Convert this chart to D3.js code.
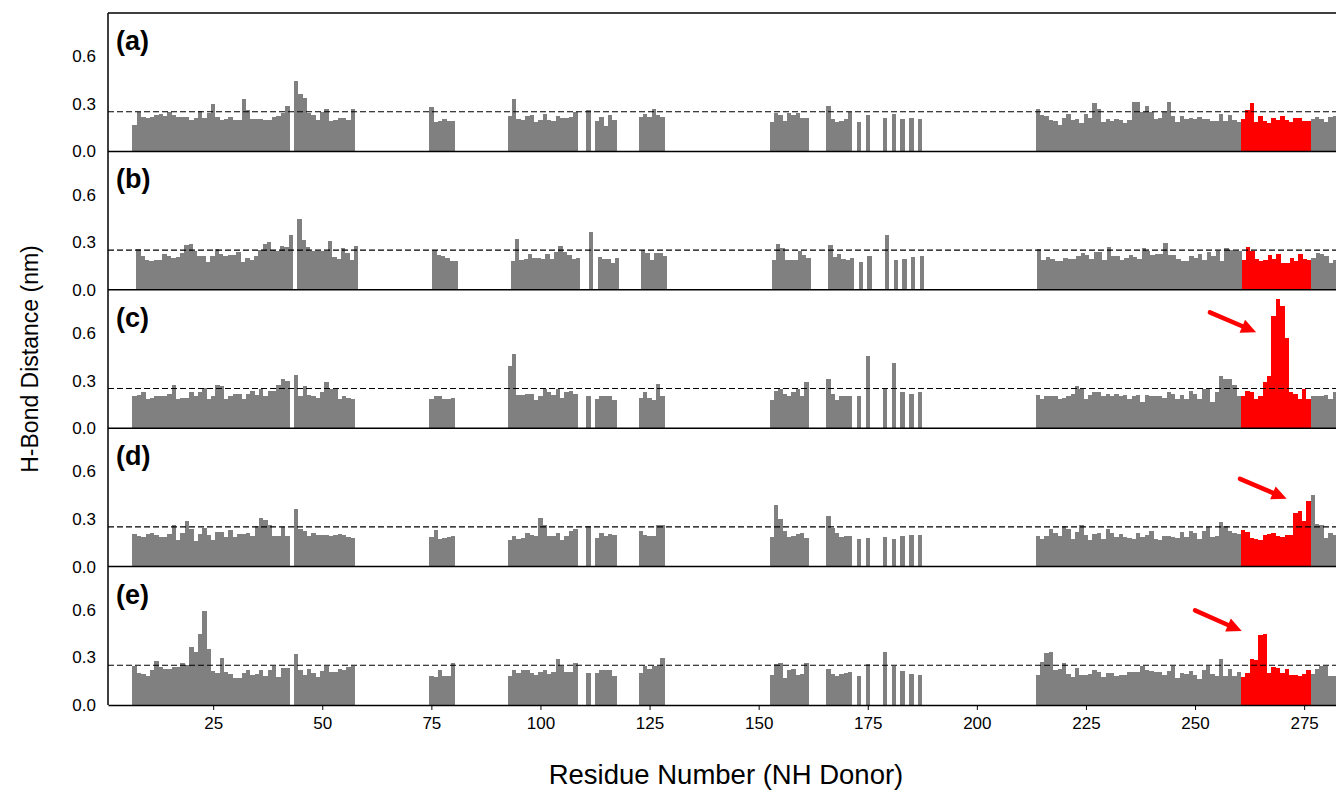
<!DOCTYPE html>
<html>
<head>
<meta charset="utf-8">
<script src="https://cdn.jsdelivr.net/npm/d3@7"></script>
<style>
  body { margin: 0; background: #fff; }
  svg { font-family: Arial, "Liberation Sans", sans-serif; }
</style>
</head>
<body>
<svg width="1336" height="793"></svg>
<script>
// residue stretches that have an NH donor (gaps = prolines / missing)
const segments = [[7, 42], [44, 57], [75, 80], [93, 108], [111, 111], [113, 117], [123, 128],
  [153, 161], [166, 171], [173, 173], [175, 175], [179, 179], [181, 181], [183, 183],
  [185, 185], [187, 187], [214, 282]];
const residues = segments.flatMap(([a, b]) => d3.range(a, b + 1));

const highlight = [261, 276];   // red stretch
const cutoff = 0.25;
const panelLabels = ['(a)', '(b)', '(c)', '(d)', '(e)'];
const yTicks = [0.0, 0.3, 0.6];
const xTicks = [25, 50, 75, 100, 125, 150, 175, 200, 225, 250, 275];

// H-bond distance (nm), one value per residue above
const distA = [
  0.168, 0.248, 0.216, 0.212, 0.216, 0.227, 0.233, 0.22, 0.248, 0.23, 0.216, 0.218, 0.218, 0.2, 0.21, 0.252, 0.212, 0.244,
  0.30, 0.216, 0.2, 0.206, 0.218, 0.195, 0.195, 0.332, 0.258, 0.206, 0.206, 0.204, 0.195, 0.2, 0.216, 0.222, 0.244, 0.288,
  0.445, 0.363, 0.338, 0.244, 0.23, 0.195, 0.248, 0.27, 0.189, 0.2, 0.21, 0.212, 0.2, 0.267,
  0.28, 0.185, 0.19, 0.204, 0.193, 0.193,
  0.225, 0.332, 0.204, 0.197, 0.225, 0.23, 0.183, 0.2, 0.237, 0.2, 0.19, 0.225, 0.208, 0.208, 0.218, 0.248,
  0.26,
  0.193, 0.218, 0.162, 0.23, 0.2,
  0.214, 0.237, 0.218, 0.267, 0.23, 0.218,
  0.187, 0.244, 0.23, 0.193, 0.244, 0.23, 0.244, 0.212, 0.212,
  0.288, 0.206, 0.187, 0.193, 0.206, 0.25,
  0.187, 0.23,
  0.212, 0.237, 0.206, 0.212, 0.206,
  0.269, 0.231, 0.225, 0.2, 0.193, 0.168, 0.212, 0.237, 0.2, 0.206, 0.181, 0.237, 0.212, 0.307, 0.269, 0.187,
  0.206, 0.193, 0.206, 0.2, 0.181, 0.2, 0.313, 0.313, 0.25, 0.288, 0.25, 0.206, 0.212, 0.25, 0.313, 0.225,
  0.187, 0.225, 0.206, 0.212, 0.206, 0.218, 0.206, 0.204, 0.193, 0.193, 0.237, 0.193, 0.231, 0.2, 0.187,
  0.206, 0.263, 0.307, 0.187, 0.225, 0.193, 0.181, 0.212, 0.2, 0.225, 0.2, 0.187, 0.212, 0.212, 0.193, 0.193,
  0.206, 0.218, 0.206, 0.187, 0.218, 0.225
];
const distB = [
  0.256, 0.21, 0.185, 0.18, 0.185, 0.185, 0.227, 0.21, 0.2, 0.206, 0.23, 0.28, 0.29, 0.244, 0.214, 0.214, 0.176, 0.214,
  0.256, 0.227, 0.21, 0.218, 0.222, 0.24, 0.176, 0.2, 0.19, 0.214, 0.248, 0.29, 0.302, 0.248, 0.244, 0.277, 0.27, 0.345,
  0.447, 0.315, 0.269, 0.244, 0.244, 0.244, 0.244, 0.307, 0.206, 0.197, 0.265, 0.23, 0.185, 0.273,
  0.248, 0.222, 0.21, 0.2, 0.18, 0.18,
  0.183, 0.32, 0.19, 0.195, 0.227, 0.2, 0.2, 0.197, 0.227, 0.195, 0.24, 0.277, 0.24, 0.218, 0.197, 0.2,
  0.365,
  0.208, 0.195, 0.193, 0.17, 0.2,
  0.25, 0.23, 0.19, 0.233, 0.233, 0.21,
  0.19, 0.29, 0.265, 0.19, 0.19, 0.19, 0.246, 0.22, 0.2,
  0.284, 0.208, 0.227, 0.197, 0.185, 0.2,
  0.176, 0.216,
  0.347, 0.185, 0.197, 0.204, 0.216,
  0.258, 0.19, 0.208, 0.195, 0.183, 0.183, 0.2, 0.195, 0.195, 0.214, 0.233, 0.22, 0.195, 0.24, 0.24, 0.19,
  0.271, 0.214, 0.214, 0.19, 0.2, 0.22, 0.208, 0.195, 0.265, 0.246, 0.22, 0.227, 0.227, 0.296, 0.22, 0.22,
  0.195, 0.183, 0.183, 0.214, 0.2, 0.227, 0.19, 0.24, 0.214, 0.246, 0.183, 0.265, 0.252, 0.246, 0.246,
  0.19, 0.271, 0.246, 0.195, 0.183, 0.19, 0.22, 0.195, 0.227, 0.17, 0.17, 0.2, 0.183, 0.227, 0.195, 0.19,
  0.2, 0.233, 0.227, 0.214, 0.17, 0.19
];
const distC = [
  0.2, 0.212, 0.225, 0.181, 0.193, 0.2, 0.206, 0.206, 0.218, 0.275, 0.181, 0.193, 0.193, 0.225, 0.206, 0.231, 0.256, 0.181,
  0.206, 0.275, 0.269, 0.187, 0.2, 0.218, 0.218, 0.187, 0.218, 0.237, 0.212, 0.25, 0.2, 0.237, 0.237, 0.275, 0.307, 0.3,
  0.338, 0.2, 0.269, 0.212, 0.2, 0.193, 0.231, 0.288, 0.25, 0.25, 0.187, 0.206, 0.193, 0.187,
  0.183, 0.206, 0.2, 0.187, 0.187, 0.193,
  0.389, 0.47, 0.212, 0.212, 0.218, 0.218, 0.18, 0.2, 0.246, 0.225, 0.212, 0.246, 0.193, 0.23, 0.237, 0.218,
  0.2,
  0.185, 0.2, 0.206, 0.2, 0.18,
  0.193, 0.23, 0.193, 0.18, 0.28, 0.206,
  0.18, 0.237, 0.25, 0.218, 0.206, 0.23, 0.25, 0.2, 0.288,
  0.307, 0.218, 0.18, 0.206, 0.206, 0.206,
  0.2, 0.458,
  0.25, 0.408, 0.23, 0.218, 0.225,
  0.212, 0.181, 0.2, 0.206, 0.206, 0.187, 0.193, 0.2, 0.218, 0.269, 0.244, 0.187, 0.212, 0.231, 0.225, 0.206,
  0.218, 0.206, 0.218, 0.2, 0.212, 0.187, 0.2, 0.212, 0.168, 0.212, 0.2, 0.2, 0.206, 0.193, 0.231, 0.218,
  0.187, 0.212, 0.181, 0.237, 0.218, 0.187, 0.25, 0.244, 0.168, 0.225, 0.332, 0.307, 0.307, 0.275, 0.2,
  0.2, 0.237, 0.225, 0.181, 0.2, 0.288, 0.326, 0.704, 0.811, 0.773, 0.571, 0.225, 0.218, 0.181, 0.244, 0.181,
  0.206, 0.2, 0.206, 0.212, 0.187, 0.225
];
const distD = [
  0.206, 0.193, 0.187, 0.206, 0.212, 0.2, 0.187, 0.187, 0.206, 0.263, 0.168, 0.212, 0.288, 0.237, 0.162, 0.206, 0.244, 0.2,
  0.168, 0.218, 0.218, 0.187, 0.231, 0.187, 0.206, 0.206, 0.212, 0.193, 0.256, 0.307, 0.294, 0.263, 0.193, 0.193, 0.25, 0.193,
  0.363, 0.237, 0.225, 0.193, 0.212, 0.2, 0.2, 0.2, 0.193, 0.2, 0.206, 0.2, 0.187, 0.181,
  0.187, 0.23, 0.176, 0.183, 0.187, 0.193,
  0.168, 0.193, 0.176, 0.183, 0.212, 0.2, 0.195, 0.307, 0.263, 0.193, 0.193, 0.212, 0.17, 0.193, 0.225, 0.237,
  0.256,
  0.18, 0.212, 0.19, 0.206, 0.2,
  0.225, 0.2, 0.195, 0.19, 0.263, 0.263,
  0.187, 0.389, 0.3, 0.225, 0.187, 0.193, 0.206, 0.212, 0.18,
  0.32, 0.244, 0.212, 0.187, 0.193, 0.193,
  0.174, 0.18,
  0.187, 0.174, 0.193, 0.2, 0.2,
  0.193, 0.174, 0.193, 0.237, 0.212, 0.193, 0.254, 0.237, 0.174, 0.218, 0.263, 0.2, 0.168, 0.206, 0.212, 0.174,
  0.237, 0.212, 0.187, 0.206, 0.187, 0.181, 0.174, 0.212, 0.187, 0.2, 0.225, 0.174, 0.168, 0.193, 0.193, 0.187,
  0.181, 0.218, 0.187, 0.225, 0.212, 0.174, 0.225, 0.25, 0.187, 0.193, 0.281, 0.256, 0.225, 0.212, 0.206,
  0.231, 0.218, 0.181, 0.174, 0.168, 0.2, 0.206, 0.212, 0.193, 0.187, 0.2, 0.2, 0.338, 0.351, 0.288, 0.414,
  0.452, 0.269, 0.263, 0.181, 0.212, 0.2
];
const distE = [
  0.248, 0.204, 0.197, 0.185, 0.223, 0.279, 0.242, 0.229, 0.229, 0.242, 0.242, 0.267, 0.254, 0.368, 0.336, 0.45, 0.595, 0.355,
  0.216, 0.204, 0.298, 0.21, 0.197, 0.172, 0.172, 0.204, 0.223, 0.191, 0.197, 0.223, 0.185, 0.223, 0.248, 0.179, 0.235, 0.235,
  0.324, 0.223, 0.191, 0.229, 0.204, 0.179, 0.216, 0.248, 0.21, 0.21, 0.229, 0.223, 0.242, 0.248,
  0.185, 0.178, 0.223, 0.185, 0.185, 0.267,
  0.185, 0.223, 0.204, 0.223, 0.223, 0.204, 0.19, 0.21, 0.223, 0.197, 0.21, 0.292, 0.248, 0.21, 0.21, 0.267,
  0.204,
  0.204, 0.223, 0.223, 0.223, 0.185,
  0.204, 0.248, 0.229, 0.248, 0.248, 0.298,
  0.19, 0.26, 0.267, 0.172, 0.223, 0.229, 0.19, 0.197, 0.267,
  0.229, 0.197, 0.185, 0.197, 0.204, 0.21,
  0.185, 0.26,
  0.336, 0.248, 0.216, 0.197, 0.19,
  0.191, 0.273, 0.33, 0.336, 0.223, 0.229, 0.267, 0.197, 0.179, 0.235, 0.191, 0.191, 0.197, 0.223, 0.21, 0.179,
  0.204, 0.204, 0.185, 0.191, 0.191, 0.21, 0.21, 0.21, 0.248, 0.223, 0.216, 0.21, 0.21, 0.191, 0.216, 0.248,
  0.172, 0.204, 0.197, 0.216, 0.191, 0.166, 0.223, 0.248, 0.197, 0.185, 0.292, 0.185, 0.229, 0.185, 0.21,
  0.179, 0.204, 0.292, 0.286, 0.443, 0.45, 0.204, 0.242, 0.235, 0.204, 0.229, 0.191, 0.191, 0.185, 0.197, 0.223,
  0.197, 0.229, 0.248, 0.248, 0.185, 0.185
];
const panels = [distA, distB, distC, distD, distE];

// arrows: panel index, tail and head in (residue, nm)
const arrows = [
  {panel: 2, from: [253.4, 0.73], to: [264, 0.605]},
  {panel: 3, from: [260.3, 0.553], to: [271, 0.427]},
  {panel: 4, from: [250, 0.596], to: [260.7, 0.466]}
];

const svg = d3.select('svg'),
      plotLeft = 108, plotRight = 1336, plotTop = 13, panelH = 138.4;

const x = d3.scaleLinear().domain([0.9, 282.3]).range([plotLeft, plotRight]);
// panel (b) was laid out a touch narrower in the original figure
const xb = d3.scaleLinear().domain([0.9, 282.3]).range([plotLeft + 4, plotRight + 0.5]);

panels.forEach((vals, i) => {
  const y0 = plotTop + i * panelH;
  const y = d3.scaleLinear().domain([0, 0.872]).range([y0 + panelH, y0]);
  const xs = i === 1 ? xb : x;
  const g = svg.append('g');

  const data = residues.map((r, k) => ({res: r, d: vals[k]}));

  g.append('g').selectAll('rect')
    .data(data)
    .enter().append('rect')
      .attr('x', d => xs(d.res - 0.5))
      .attr('width', d => xs(d.res + 0.5) - xs(d.res - 0.5))
      .attr('y', d => y(d.d))
      .attr('height', d => y(0) - y(d.d))
      .attr('fill', d => d.res >= highlight[0] && d.res <= highlight[1] ? '#ff0000' : '#808080')
      .attr('shape-rendering', 'crispEdges');

  // 0.25 nm cut-off
  g.append('line')
    .attr('x1', plotLeft).attr('x2', plotRight)
    .attr('y1', y(cutoff)).attr('y2', y(cutoff))
    .attr('stroke', '#000')
    .attr('stroke-width', 1.1)
    .attr('stroke-dasharray', '6,3');

  const yAxis = g.append('g')
    .attr('transform', `translate(${plotLeft},0)`)
    .call(d3.axisLeft(y).tickValues(yTicks).tickFormat(d3.format('.1f')).tickSize(0).tickPadding(12));
  yAxis.select('.domain').remove();
  yAxis.selectAll('text').attr('font-size', 17).attr('font-family', 'Arial, "Liberation Sans", sans-serif').attr('fill', '#000');

  // panel frame top line
  g.append('line')
    .attr('x1', plotLeft).attr('x2', plotRight)
    .attr('y1', y0).attr('y2', y0)
    .attr('stroke', '#000').attr('stroke-width', 1.5);

  g.append('text')
    .attr('x', plotLeft + 8)
    .attr('y', y0 + 37)
    .attr('font-size', 27)
    .attr('font-weight', 'bold')
    .text(panelLabels[i]);

  arrows.filter(a => a.panel === i).forEach(a => {
    const x1 = x(a.from[0]), y1 = y(a.from[1]),
          x2 = x(a.to[0]), y2 = y(a.to[1]);
    const ang = Math.atan2(y2 - y1, x2 - x1),
          hl = 15, hw = 7;
    const bx = x2 - hl * Math.cos(ang), by = y2 - hl * Math.sin(ang);
    g.append('line')
      .attr('x1', x1).attr('y1', y1).attr('x2', bx).attr('y2', by)
      .attr('stroke', '#ff0000').attr('stroke-width', 4.5).attr('stroke-linecap', 'round');
    g.append('path')
      .attr('d', `M${x2},${y2}L${bx + hw * Math.sin(ang)},${by - hw * Math.cos(ang)}L${bx - hw * Math.sin(ang)},${by + hw * Math.cos(ang)}Z`)
      .attr('fill', '#ff0000');
  });
});

// left spine
svg.append('line')
  .attr('x1', plotLeft).attr('x2', plotLeft)
  .attr('y1', plotTop).attr('y2', plotTop + 5 * panelH)
  .attr('stroke', '#000').attr('stroke-width', 1.5);

// bottom axis
const xAxis = svg.append('g')
  .attr('transform', `translate(0,${plotTop + 5 * panelH})`)
  .call(d3.axisBottom(x).tickValues(xTicks).tickFormat(d3.format('d')).tickSize(5).tickPadding(7).tickSizeOuter(0));
xAxis.select('.domain').attr('stroke-width', 1.5);
xAxis.selectAll('text').attr('font-size', 17).attr('font-family', 'Arial, "Liberation Sans", sans-serif');

svg.append('text')
  .attr('x', 726).attr('y', 784)
  .attr('text-anchor', 'middle')
  .attr('font-size', 27.5)
  .text('Residue Number (NH Donor)');

svg.append('text')
  .attr('transform', `translate(38,${plotTop + 2.5 * panelH}) rotate(-90)`)
  .attr('text-anchor', 'middle')
  .attr('font-size', 23)
  .text('H-Bond Distance (nm)');
</script>
</body>
</html>
